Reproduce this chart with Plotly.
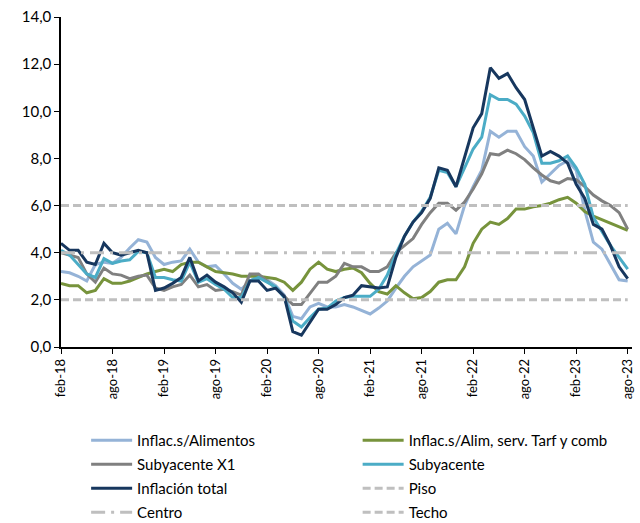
import plotly.graph_objects as go

# Monthly categories feb-18 ... ago-23
meses = ["ene", "feb", "mar", "abr", "may", "jun", "jul", "ago", "sep", "oct", "nov", "dic"]
categorias = [f"{meses[(1 + k) % 12]}-{18 + (1 + k) // 12}" for k in range(67)]
tick_labels = categorias[::6]

inflac_sin_alimentos = [
    3.2, 3.15, 3.0, 2.8, 3.5, 3.6, 3.55, 3.8, 4.2, 4.55, 4.45, 3.8,
    3.5, 3.6, 3.65, 4.15, 3.6, 3.4, 3.45, 3.1, 2.7, 2.45, 2.8, 3.0,
    2.85, 2.6, 2.2, 1.3, 1.2, 1.7, 1.85, 1.7, 1.7, 1.8, 1.7, 1.55,
    1.4, 1.65, 1.95, 2.5, 3.0, 3.4, 3.65, 3.9, 5.0, 5.25, 4.8, 6.0,
    6.8, 7.5, 9.15, 8.9, 9.15, 9.15, 8.5, 8.1, 7.0, 7.35, 7.7, 7.9,
    7.5, 5.8, 4.45, 4.15, 3.5, 2.85, 2.8]

inflac_sin_alim_serv = [
    2.7, 2.6, 2.6, 2.3, 2.4, 2.9, 2.7, 2.7, 2.8, 2.95, 3.1, 3.2,
    3.3, 3.2, 3.5, 3.6, 3.6, 3.4, 3.2, 3.15, 3.1, 3.0, 3.0, 3.0,
    2.95, 2.9, 2.75, 2.4, 2.75, 3.3, 3.6, 3.3, 3.2, 3.3, 3.35, 3.15,
    2.7, 2.35, 2.25, 2.6, 2.3, 2.05, 2.1, 2.35, 2.75, 2.85, 2.85, 3.4,
    4.4, 5.0, 5.3, 5.2, 5.45, 5.85, 5.85, 5.95, 6.0, 6.1, 6.25, 6.35,
    6.1, 5.75, 5.55, 5.4, 5.25, 5.1, 4.95]

subyacente_x1 = [
    4.0, 3.9, 3.8, 3.1, 2.75, 3.35, 3.1, 3.05, 2.9, 3.0, 3.05, 2.5,
    2.4, 2.55, 2.65, 3.05, 2.55, 2.65, 2.4, 2.45, 2.35, 2.2, 3.1, 3.1,
    2.8, 2.5, 2.15, 1.8, 1.8, 2.3, 2.75, 2.75, 3.0, 3.55, 3.4, 3.4,
    3.2, 3.2, 3.4, 4.0, 4.3, 4.6, 5.2, 5.7, 6.1, 6.1, 5.8, 6.15,
    6.7, 7.35, 8.2, 8.15, 8.35, 8.2, 7.95, 7.6, 7.3, 7.05, 6.95, 7.15,
    7.1, 6.8, 6.45, 6.2, 6.0, 5.7, 5.0]

subyacente = [
    4.1, 3.9, 3.5, 3.1, 2.95, 3.75, 3.55, 3.65, 3.7, 4.05, 4.0, 2.95,
    2.95, 2.85, 2.8, 3.6, 2.75, 2.9, 2.65, 2.45, 2.1, 2.1, 2.8, 2.95,
    2.75, 2.55, 2.1, 1.1, 0.85, 1.25, 1.6, 1.65, 1.95, 2.1, 2.15, 2.15,
    2.15, 2.45, 3.05, 3.95, 4.7, 5.3, 5.75, 6.35, 7.5, 7.4, 6.8, 7.6,
    8.4, 8.9, 10.7, 10.5, 10.5, 10.3, 9.8, 9.1, 7.8, 7.8, 7.9, 8.1,
    7.6, 6.9, 5.5, 4.9, 4.3, 3.8, 3.3]

inflacion_total = [
    4.4, 4.1, 4.1, 3.6, 3.5, 4.4, 4.0, 3.9, 4.0, 4.1, 4.0, 2.4,
    2.5, 2.7, 2.95, 3.8, 2.8, 3.05, 2.75, 2.55, 2.3, 1.9, 2.8, 2.8,
    2.4, 2.5, 2.15, 0.65, 0.5, 1.05, 1.6, 1.6, 1.8, 2.1, 2.2, 2.6,
    2.55, 2.5, 2.55, 3.8, 4.7, 5.3, 5.7, 6.3, 7.6, 7.5, 6.8, 8.1,
    9.3, 9.9, 11.85, 11.4, 11.6, 11.0, 10.5, 9.3, 8.1, 8.3, 8.1, 7.8,
    6.9, 6.3, 5.2, 5.0, 4.3, 3.4, 2.9]

piso = 2.0
centro = 4.0
techo = 6.0

# (name, values, colour, legend column)
series = [
    ("Inflac.s/Alimentos", inflac_sin_alimentos, "#95B3D7", "legend"),
    ("Inflac.s/Alim, serv. Tarf y comb", inflac_sin_alim_serv, "#77933C", "legend2"),
    ("Subyacente X1", subyacente_x1, "#808080", "legend"),
    ("Subyacente", subyacente, "#4BACC6", "legend2"),
    ("Inflación total", inflacion_total, "#17375E", "legend"),
]

fig = go.Figure()
for name, vals, color, leg in series:
    fig.add_trace(go.Scatter(x=categorias, y=vals, name=name, mode="lines",
                             legend=leg, legendgroup=name,
                             line=dict(color=color, width=3)))

refs = [("Piso", piso, "8px,4px", "legend2"),
        ("Centro", centro, "14px,6px,3px,6px", "legend"),
        ("Techo", techo, "8px,4px", "legend2")]
for name, val, dash, leg in refs:
    fig.add_trace(go.Scatter(x=categorias, y=[val] * len(categorias), name=name, mode="lines",
                             legend=leg, legendgroup=name,
                             line=dict(color="#BFBFBF", width=3, dash=dash)))

leg_common = dict(orientation="v", xanchor="left", yanchor="top", itemwidth=41,
                  traceorder="grouped", tracegroupgap=1.5,
                  font=dict(size=15), bgcolor="rgba(0,0,0,0)", borderwidth=0)

fig.update_layout(
    width=640, height=523,
    margin=dict(l=61, r=8, t=17, b=176, autoexpand=False),
    paper_bgcolor="white", plot_bgcolor="white",
    separators=",.",
    font=dict(family="Lato", size=15, color="#000000"),
    showlegend=True,
    legend=dict(x=0.044, y=-0.2333, **leg_common),
    legend2=dict(x=0.5195, y=-0.2333, **leg_common),
)
fig.update_xaxes(
    type="category", range=[0, 66.5],
    tickmode="array", tickvals=tick_labels, ticktext=tick_labels,
    tickangle=-90, tickfont=dict(size=13), ticklabeloverflow="allow",
    showline=True, linecolor="#000000", linewidth=1.5,
    ticks="outside", ticklen=5, tickcolor="#000000",
    showgrid=False, zeroline=False,
)
fig.update_yaxes(
    range=[0, 14], dtick=2, tickformat=".1f", tickfont=dict(size=15),
    showline=True, linecolor="#000000", linewidth=1.5,
    ticks="outside", ticklen=5, tickcolor="#000000",
    showgrid=False, zeroline=False,
)

fig.write_html("out.html", config={"displayModeBar": False},
               post_script="document.body.style.margin='0';")
